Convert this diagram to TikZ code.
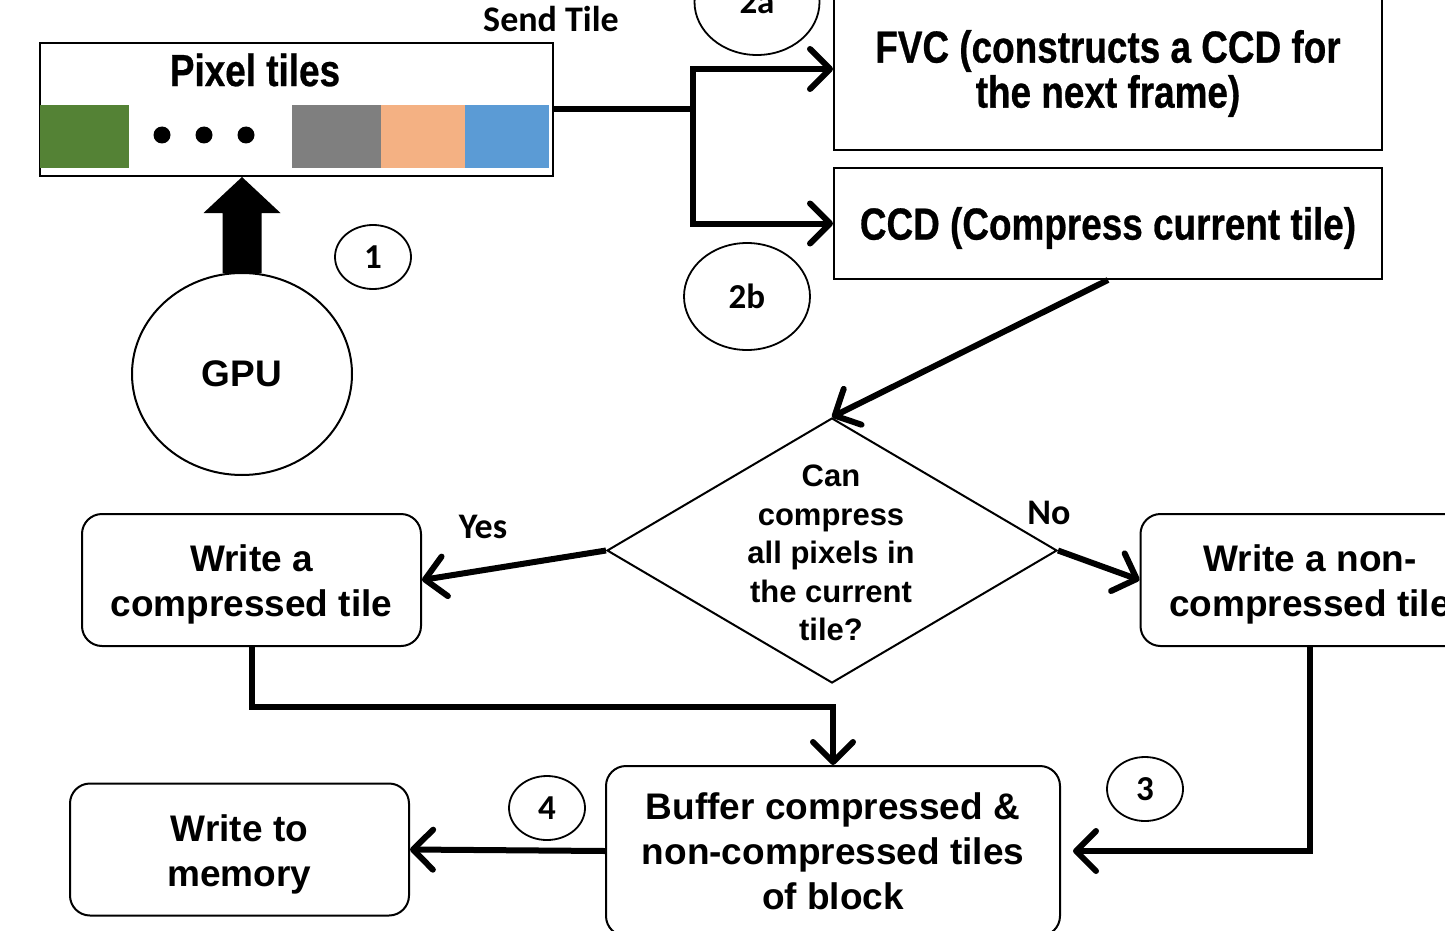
\documentclass[tikz,border=0pt]{standalone}
\usepackage{fontspec}
\setmainfont{Liberation Sans}
\newfontfamily\narrowfont{Liberation Sans}[FakeStretch=0.82, FakeBold=0.6]
\newfontfamily\calfont{Carlito}
\usetikzlibrary{arrows.meta,shapes.geometric,calc}
\definecolor{tgreen}{HTML}{548235}
\definecolor{tgray}{HTML}{7F7F7F}
\definecolor{torange}{HTML}{F4B183}
\definecolor{tblue}{HTML}{5B9BD5}
\begin{document}
\begin{tikzpicture}[x=1pt,y=-1pt,
  sqbox/.style={draw, line width=2pt, inner sep=0pt},
  narrowtext/.style={inner sep=0pt, align=center,
    font=\narrowfont\bfseries\fontsize{45}{45}\selectfont},
  rbox/.style={draw, line width=2pt, rounded corners=20pt, minimum width=339pt,
    minimum height=132pt, inner sep=0pt},
  boxtext/.style={align=center, inner sep=0pt,
    font=\bfseries\fontsize{37}{45}\selectfont},
  numc/.style={draw, ellipse, line width=1.8pt, minimum width=76pt, minimum height=64pt,
    inner sep=0pt, font=\calfont\bfseries\fontsize{35}{40}\selectfont},
  lbl/.style={inner sep=0pt, font=\calfont\bfseries\fontsize{36}{40}\selectfont},
  conn/.style={line width=6pt, -{Straight Barb[length=20pt,width=40pt,round]}},
  tile/.style={inner sep=0pt, minimum height=63pt}
]
\useasboundingbox (0,0) rectangle (1445,931);

% Pixel tiles box
\node[sqbox, minimum width=513pt, minimum height=133pt] (pix) at (296.5,109.5) {};
\node[narrowtext] (pixt) at (255,70) {Pixel tiles};
\node[tile, fill=tgreen, minimum width=89pt] (t1) at (84.5,136.5) {};
\node[tile, fill=tgray, minimum width=89pt] (t2) at (336.5,136.5) {};
\node[tile, fill=torange, minimum width=84pt] (t3) at (423,136.5) {};
\node[tile, fill=tblue, minimum width=84pt] (t4) at (507,136.5) {};
\fill (162,135) circle (8.5);
\fill (204,135) circle (8.5);
\fill (246,135) circle (8.5);

% FVC and CCD
\node[sqbox, minimum width=548pt, minimum height=162pt] (fvc) at (1108,69) {};
\node[narrowtext] (fvct) at (1108,73.5) {FVC (constructs a CCD for\\the next frame)};
\node[sqbox, minimum width=548pt, minimum height=111pt] (ccd) at (1108,223.5) {};
\node[narrowtext] (ccdt) at (1108,228) {CCD (Compress current tile)};

% GPU
\node[draw, ellipse, line width=2pt, minimum width=220pt, minimum height=202pt,
  font=\bfseries\fontsize{37}{45}\selectfont] (gpu) at (242,374) {GPU};
\coordinate (tip) at (gpu.north |- pix.south);
\fill ($(gpu.north)+(-19.5,1)$) |- ($(tip)+(-38.5,36)$) -- (tip) -- ($(tip)+(38.5,36)$) -| ($(gpu.north)+(19.5,1)$) -- cycle;

% numbered circles and labels
\node[numc, minimum width=125pt, minimum height=106pt] (c2a) at (757,2) {2a};
\node[numc, minimum width=126pt, minimum height=107pt] (c2b) at (747,296.5) {2b};
\node[numc] (c1) at (373,257) {1};
\node[numc] (c3) at (1145,789) {3};
\node[numc] (c4) at (547,808) {4};
\node[lbl] (send) at (551,19) {Send Tile};
\node[lbl] (yes) at (483,527) {Yes};
\node[lbl] (no) at (1049,513) {No};

% decision
\node[diamond, draw, line width=2pt, minimum width=450pt, minimum height=265pt, inner sep=0pt] (dia) at (832,550.5) {};
\node[inner sep=0pt, align=center, font=\bfseries\fontsize{31}{38.5}\selectfont] (diat) at (831,553) {Can\\compress\\all pixels in\\the current\\tile?};

% rounded boxes
\node[rbox] (wc) at (251.5,580) {};
\node[boxtext] (wct) at (251.5,584) {Write a\\compressed tile};
\node[rbox] (wnc) at (1310,580) {};
\node[boxtext] (wnct) at (1310,584) {Write a non-\\compressed tile};
\node[rbox, minimum width=454pt, minimum height=170pt] (buf) at (833,851) {};
\node[boxtext] (buft) at (833,851) {Buffer compressed \&\\non-compressed tiles\\of block};
\node[rbox] (wm) at (239.5,849.5) {};
\node[boxtext] (wmt) at (239.5,854.5) {Write to\\memory};

% connectors
\coordinate (br) at (693,109.5);
\draw[line width=6pt] (pix.east) -- (br);
\draw[conn] (br) |- (fvc.west);
\draw[conn] (br) |- (ccd.west);
\draw[conn] (ccd.south) -- (dia.north);
\draw[conn] (dia.west) -- (wc.east);
\draw[conn] (dia.east) -- (wnc.west);
\draw[conn] (wc.south) -- ++(0,60) -| (buf.north);
\draw[conn, shorten >=12pt] (wnc.south) |- (buf.east);
\draw[conn] (buf.west) -- (wm.east);
\end{tikzpicture}
\end{document}
